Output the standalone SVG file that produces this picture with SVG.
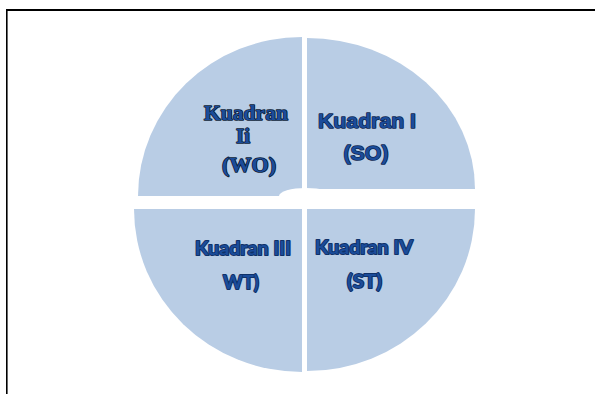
<svg xmlns="http://www.w3.org/2000/svg" width="595" height="394" viewBox="0 0 595 394">
  <style>
    .q { fill: #b9cde5; }
    .t { fill: #1b4c9a; font-weight: bold; paint-order: stroke; stroke-linejoin: round; }
    .serif { font-family: "Liberation Serif", serif; stroke: #0a1a35; stroke-width: 1.6; }
    .sans { font-family: "Liberation Sans", sans-serif; stroke: #0c2550; stroke-width: 1.5; }
    .cal { font-family: "Lato", "Open Sans", sans-serif; stroke: #0f3168; stroke-width: 2; }
  </style>
  <rect width="595" height="394" fill="#ffffff"/>
  <g id="frame">
    <line x1="6" y1="10" x2="595" y2="10" stroke="#000" stroke-width="2"/>
    <line x1="6.8" y1="9" x2="6.8" y2="394" stroke="#000" stroke-width="1.6"/>
  </g>
  <g id="kuadran-ii">
    <path class="q" d="M302,196 L138,196 A164,159 0 0 1 302,37 Z"/>
    <text class="t serif" x="246" y="120" font-size="21" text-anchor="middle" textLength="84" lengthAdjust="spacingAndGlyphs">Kuadran</text>
    <text class="t serif" x="243" y="143" font-size="21" text-anchor="middle">Ii</text>
    <text class="t serif" x="249" y="172" font-size="21" text-anchor="middle" textLength="54" lengthAdjust="spacingAndGlyphs">(WO)</text>
  </g>
  <g id="kuadran-i">
    <path class="q" d="M307,189 L307,38 A168,151 0 0 1 475,189 Z"/>
    <text class="t sans" x="318" y="128" font-size="20" textLength="98" lengthAdjust="spacingAndGlyphs">Kuadran I</text>
    <text class="t sans" x="366" y="160" font-size="20" text-anchor="middle" textLength="45" lengthAdjust="spacingAndGlyphs">(SO)</text>
  </g>
  <g id="kuadran-iii">
    <path class="q" d="M302,209 L302,372 A168,163 0 0 1 134,209 Z"/>
    <text class="t cal" x="195" y="255" font-size="19" textLength="96" lengthAdjust="spacingAndGlyphs">Kuadran III</text>
    <text class="t cal" x="223" y="289" font-size="19" textLength="36" lengthAdjust="spacingAndGlyphs">WT)</text>
  </g>
  <g id="kuadran-iv">
    <path class="q" d="M307,209 L475,209 A168,162 0 0 1 307,371 Z"/>
    <text class="t cal" x="315" y="254" font-size="19" textLength="98" lengthAdjust="spacingAndGlyphs">Kuadran IV</text>
    <text class="t cal" x="347" y="288" font-size="19" textLength="35" lengthAdjust="spacingAndGlyphs">(ST)</text>
  </g>
  <g id="connectors"></g>
  <ellipse cx="306" cy="196" rx="27" ry="8" fill="#ffffff"/>
</svg>
